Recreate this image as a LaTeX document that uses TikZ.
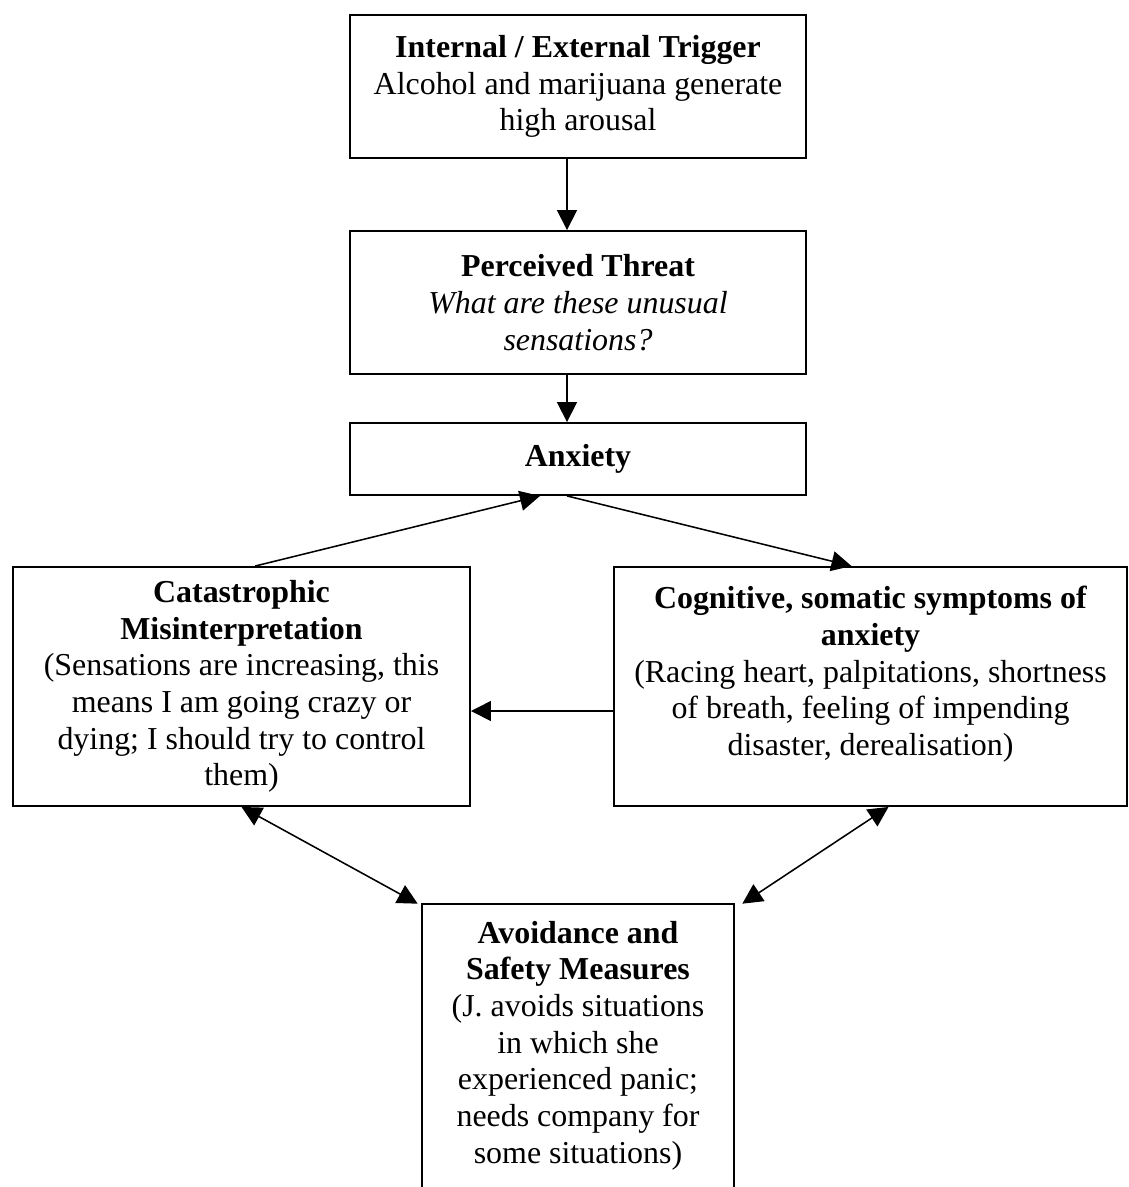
\documentclass[tikz,border=0pt]{standalone}
\usepackage{fontspec}
\setmainfont{Liberation Serif}
\usetikzlibrary{arrows.meta}

\begin{document}
\begin{tikzpicture}[x=0.025cm, y=-0.025cm,
    flow_box/.style={rectangle, draw, line width=1.3pt, align=center, inner sep=0pt, font=\fontsize{22.7}{26.1}\selectfont},
    open_box/.style={rectangle, align=center, inner sep=0pt, font=\fontsize{22.7}{26.1}\selectfont},
    flow_arrow/.style={line width=1.1pt, -{Triangle[length=0.5cm, width=0.5cm]}},
    both_arrow/.style={line width=1.1pt, {Triangle[length=0.5cm, width=0.5cm]}-{Triangle[length=0.5cm, width=0.5cm]}}]
    \useasboundingbox (0, 0) rectangle (1128, 1187);

	\node[flow_box, minimum width=11.4cm, minimum height=3.575cm] (trigger) at (578, 86.5) {\textbf{Internal / External Trigger}\\Alcohol and marijuana generate\\high arousal};
	\node[flow_box, minimum width=11.4cm, minimum height=3.575cm] (threat) at (578, 302.5) {\textbf{Perceived Threat}\\\textit{What are these unusual}\\\textit{sensations?}};
	\node[flow_box, minimum width=11.4cm, minimum height=1.8cm] (anxiety) at (578, 459) {\textbf{Anxiety}};

	\node[flow_box, minimum width=11.425cm, minimum height=5.975cm] (catastrophic) at (241.5, 686.5) {\textbf{Catastrophic}\\\textbf{Misinterpretation}\\(Sensations are increasing, this\\means I am going crazy or\\dying; I should try to control\\them)};
	\node[flow_box, minimum width=12.825cm, minimum height=5.975cm] (cognitive) at (870.5, 686.5) {\textbf{Cognitive, somatic symptoms of}\\\textbf{anxiety}\\(Racing heart, palpitations, shortness\\of breath, feeling of impending\\disaster, derealisation)\\[-4pt]\mbox{}};

	\node[open_box, minimum width=7.8cm, minimum height=7.075cm] (avoidance) at (578, 1045.5) {\textbf{Avoidance and}\\\textbf{Safety Measures}\\(J. avoids situations\\in which she\\experienced panic;\\needs company for\\some situations)};

\draw[line width=1.3pt] (avoidance.south west) -- (avoidance.north west) -- (avoidance.north east) -- (avoidance.south east);

\draw[flow_arrow] ([xshift=-0.275cm]trigger.south) -- ([xshift=-0.275cm]threat.north);
\draw[flow_arrow] ([xshift=-0.275cm]threat.south) -- ([xshift=-0.275cm]anxiety.north);
\draw[flow_arrow] ([xshift=0.34cm]catastrophic.north) -- ([xshift=-0.95cm]anxiety.south);
\draw[flow_arrow] ([xshift=-0.275cm]anxiety.south) -- ([xshift=-0.475cm]cognitive.north);
\draw[flow_arrow] ([yshift=-0.6125cm]cognitive.west) -- ([yshift=-0.6125cm]catastrophic.east);
\draw[both_arrow] (catastrophic.south) -- ([xshift=-0.1cm]avoidance.north west);
\draw[both_arrow] ([xshift=0.45cm]cognitive.south) -- ([xshift=0.2cm]avoidance.north east);

\end{tikzpicture}
\end{document}
